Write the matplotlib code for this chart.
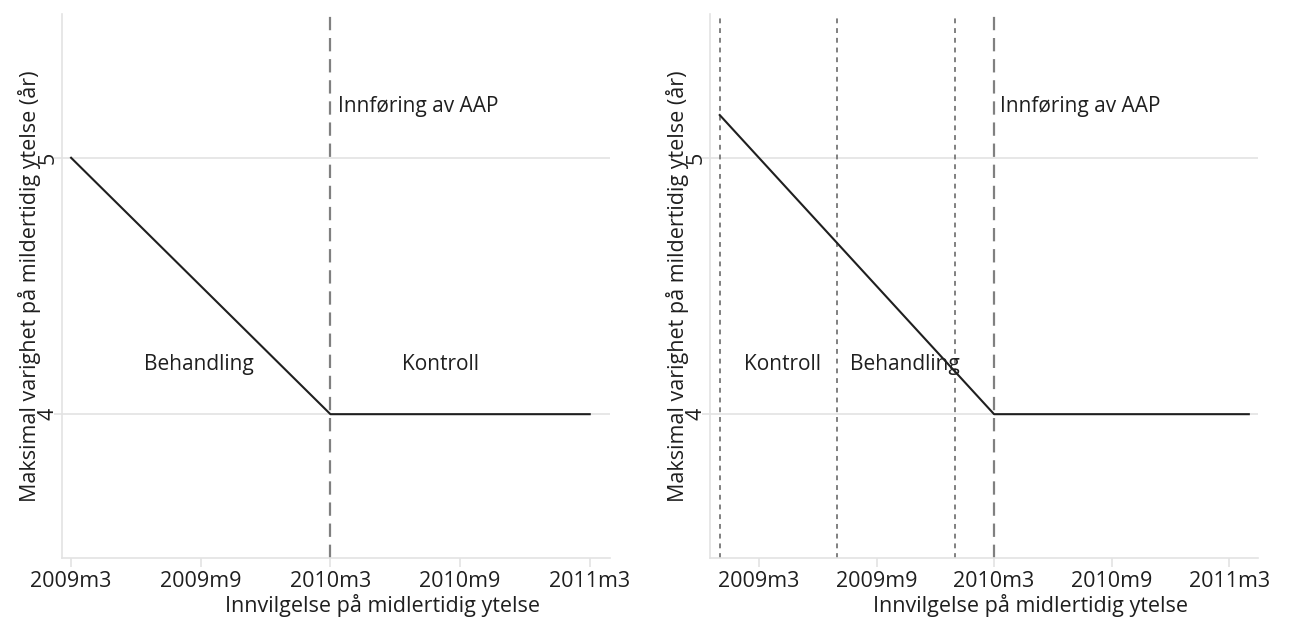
import matplotlib
matplotlib.use("Agg")
import matplotlib.pyplot as plt

## Months are counted from 2009m1 = 0.

tick_pos = [2, 8, 14, 20, 26]
tick_labels = ["2009m3", "2009m9", "2010m3", "2010m9", "2011m3"]

## Left panel: maximum duration by grant month.
left_x = [2, 14, 26]
left_y = [5, 4, 4]

## Right panel: same rule, longer window, with group cut-offs.
right_x = [0, 14, 27]
right_y = [5 + 2 / 12, 4, 4]
cutoffs = [0, 6, 12]
reform = 14

xlabel = "Innvilgelse på midlertidig ytelse"
ylabel = "Maksimal varighet på mildertidig ytelse (år)"

plt.rcParams['font.family'] = ['Open Sans', 'DejaVu Sans']
plt.rcParams['font.size'] = 15

grid_col = '#e3e3e3'
text_col = '#1f1f1f'

fig = plt.figure(figsize=(12.92, 6.17), dpi=100)
ax0 = fig.add_axes([0.048, 0.096, 0.424, 0.881])
ax1 = fig.add_axes([0.5495, 0.096, 0.4242, 0.881])


def style(ax, xlim):
    ax.set_xlim(*xlim)
    ax.set_ylim(3.44, 5.56)
    ax.set_xticks(tick_pos)
    ax.set_xticklabels(tick_labels)
    ax.set_yticks([4, 5])
    ax.set_yticklabels(["4", "5"], rotation=90, va='center', ha='center')
    ax.grid(axis='y', color=grid_col, linewidth=1.2)
    ax.set_axisbelow(True)
    for s in ['top', 'right']:
        ax.spines[s].set_visible(False)
    for s in ['left', 'bottom']:
        ax.spines[s].set_color(grid_col)
        ax.spines[s].set_linewidth(1.2)
    ax.tick_params(axis='x', colors=grid_col, labelcolor=text_col,
                   length=6.5, width=1.2, labelsize=15.5, pad=3)
    ax.tick_params(axis='y', colors=grid_col, labelcolor=text_col,
                   length=6, width=1.2, labelsize=15.5, pad=4)
    ax.set_xlabel(xlabel, fontsize=15.5, color=text_col)
    ax.set_ylabel(ylabel, fontsize=15.5, color=text_col)
    ax.xaxis.set_label_coords(0.585, -0.066)
    ax.yaxis.set_label_coords(-0.038, 0.5)


## Left panel
style(ax0, (1.58, 26.93))
ax0.axvline(reform, color='#808080', linestyle=(0, (6, 3.5)), linewidth=1.6)
ax0.plot(left_x, left_y, color=text_col, linewidth=1.5)
ax0.text(reform + 0.35, 5.2, "Innføring av AAP", ha='left', va='center',
         fontsize=15, color=text_col)
ax0.text(7.9, 4.195, "Behandling", ha='center', va='center', fontsize=15, color=text_col)
ax0.text(19.1, 4.195, "Kontroll", ha='center', va='center', fontsize=15, color=text_col)

## Right panel
style(ax1, (-0.5, 27.47))
for c in cutoffs:
    ax1.axvline(c, color='#808080', linestyle=(0, (2.5, 2.5)), linewidth=1.4)
ax1.axvline(reform, color='#808080', linestyle=(0, (6, 3.5)), linewidth=1.6)
ax1.plot(right_x, right_y, color=text_col, linewidth=1.5)
ax1.text(reform + 0.3, 5.2, "Innføring av AAP", ha='left', va='center',
         fontsize=15, color=text_col)
ax1.text(3.2, 4.195, "Kontroll", ha='center', va='center', fontsize=15, color=text_col)
ax1.text(9.46, 4.195, "Behandling", ha='center', va='center', fontsize=15, color=text_col)

fig.savefig("out.png", dpi=100)
